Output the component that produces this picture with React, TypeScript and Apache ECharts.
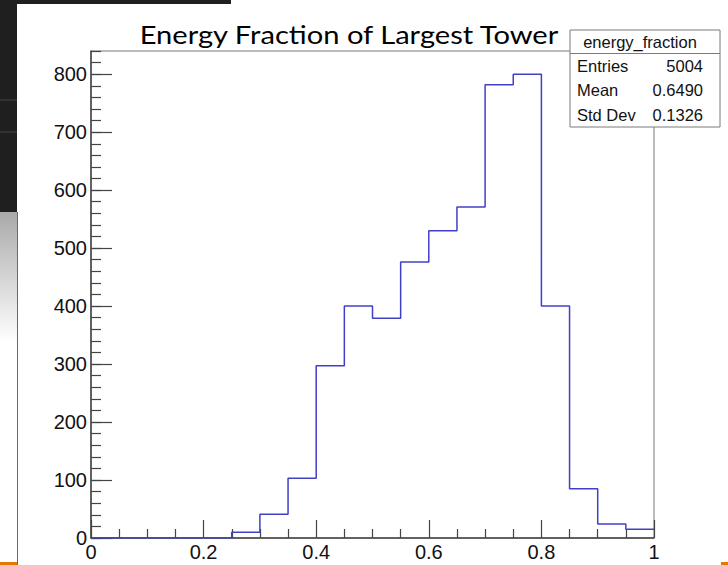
import React, { useEffect, useRef } from "react";
import * as echarts from "echarts";

const binLowEdges = [0, 0.05, 0.1, 0.15, 0.2, 0.25, 0.3, 0.35, 0.4, 0.45, 0.5, 0.55, 0.6, 0.65, 0.7, 0.75, 0.8, 0.85, 0.9, 0.95];
const binUpperLast = 1.0;
const binCounts = [0, 0, 0, 0, 0, 10, 41, 103, 297, 400, 379, 476, 530, 571, 782, 800, 400, 85, 24, 15];

const titleText = "Energy Fraction of Largest Tower";
const statsName = "energy_fraction";
const statsLabels = ["Entries", "Mean", "Std Dev"];
const statsValues = ["5004", "0.6490", "0.1326"];

const xMin = 0;
const xMax = 1;
const yMax = 840;

export default function App() {
  const ref = useRef<HTMLDivElement>(null);

  useEffect(() => {
    if (!ref.current) return;
    const chart = echarts.init(ref.current, null, { renderer: "svg" });

    const stepData: [number, number][] = binLowEdges.map((x, i) => [x, binCounts[i]]);
    stepData.push([binUpperLast, binCounts[binCounts.length - 1]]);

    const statFont = "16.5px 'Liberation Sans', Arial, sans-serif";
    const rowH = 24.6;
    const statsGraphics: any[] = [
      {
        type: "rect",
        shape: { x: 570, y: 30, width: 150, height: 97 },
        style: { fill: "#fff", stroke: "#7a7a7a", lineWidth: 1 },
        z: 100,
      },
      {
        type: "line",
        shape: { x1: 570, y1: 53.5, x2: 720, y2: 53.5 },
        style: { stroke: "#7a7a7a", lineWidth: 1 },
        z: 101,
      },
      {
        type: "text",
        x: 640,
        y: 42,
        style: { text: statsName, font: statFont, fill: "#111", align: "center", verticalAlign: "middle" },
        z: 102,
      },
    ];
    statsLabels.forEach((lab, i) => {
      const cy = 53.5 + rowH * (i + 0.5);
      statsGraphics.push({
        type: "text",
        x: 577,
        y: cy,
        style: { text: lab, font: statFont, fill: "#111", align: "left", verticalAlign: "middle" },
        z: 102,
      });
      statsGraphics.push({
        type: "text",
        x: 703,
        y: cy,
        style: { text: statsValues[i], font: statFont, fill: "#111", align: "right", verticalAlign: "middle" },
        z: 102,
      });
    });

    const option: any = {
      animation: false,
      backgroundColor: "#ffffff",
      grid: {
        left: 91,
        right: 74,
        top: 51,
        bottom: 27,
        show: true,
        borderColor: "#777",
        borderWidth: 1,
        backgroundColor: "transparent",
      },
      xAxis: {
        type: "value",
        min: xMin,
        max: xMax,
        interval: 0.2,
        axisLine: { show: true, onZero: false, lineStyle: { color: "#444", width: 1.5 } },
        axisTick: { show: true, inside: true, length: 18, lineStyle: { color: "#444", width: 1.2 } },
        minorTick: { show: true, splitNumber: 4, length: 9, lineStyle: { color: "#444", width: 1.2 } },
        splitLine: { show: false },
        minorSplitLine: { show: false },
        axisLabel: {
          show: true,
          margin: 4,
          fontSize: 20,
          color: "#111",
          fontFamily: "'Liberation Sans', Arial, sans-serif",
        },
      },
      yAxis: [
        {
          type: "value",
          min: 0,
          max: yMax,
          interval: 100,
          position: "left",
          axisLine: { show: true, onZero: false, lineStyle: { color: "#444", width: 1.5 } },
          axisTick: { show: true, inside: true, length: 21, lineStyle: { color: "#444", width: 1.2 } },
          splitLine: { show: false },
          axisLabel: {
            show: true,
            margin: 4,
            fontSize: 20,
            color: "#111",
            showMaxLabel: false,
            fontFamily: "'Liberation Sans', Arial, sans-serif",
          },
        },
        {
          type: "value",
          min: 0,
          max: yMax,
          interval: 20,
          position: "left",
          offset: 0,
          axisLine: { show: false },
          axisTick: { show: true, inside: true, length: 10, lineStyle: { color: "#444", width: 1.2 } },
          splitLine: { show: false },
          axisLabel: { show: false },
        },
      ],
      series: [
        {
          type: "line",
          step: "end",
          data: stepData,
          xAxisIndex: 0,
          yAxisIndex: 0,
          showSymbol: false,
          symbol: "none",
          lineStyle: { color: "#4040c6", width: 1.5 },
          z: 5,
        },
      ],
      graphic: [
        { type: "rect", shape: { x: 0, y: 0, width: 17, height: 212 }, style: { fill: "#1f1f1f" } },
        { type: "rect", shape: { x: 0, y: 0, width: 231, height: 4 }, style: { fill: "#1f1f1f" } },
        { type: "line", shape: { x1: 0, y1: 100, x2: 17, y2: 100 }, style: { stroke: "#3a3a3a", lineWidth: 1.5 } },
        { type: "line", shape: { x1: 0, y1: 132, x2: 17, y2: 132 }, style: { stroke: "#3a3a3a", lineWidth: 1.5 } },
        {
          type: "rect",
          shape: { x: 0, y: 212, width: 17, height: 130 },
          style: {
            fill: new echarts.graphic.LinearGradient(0, 0, 0, 1, [
              { offset: 0, color: "#a9a9a9" },
              { offset: 1, color: "#ffffff" },
            ]),
          },
        },
        { type: "line", shape: { x1: 17.5, y1: 212, x2: 17.5, y2: 565 }, style: { stroke: "#6a6a6a", lineWidth: 1 } },
        { type: "rect", shape: { x: 0, y: 562, width: 17, height: 3 }, style: { fill: "#e07b00" } },
        { type: "rect", shape: { x: 721, y: 562, width: 7, height: 3 }, style: { fill: "#e07b00" } },
        {
          type: "text",
          x: 349,
          y: 34,
          scaleX: 1.12,
          style: { text: titleText, font: "26px Lato, 'Open Sans', sans-serif", fill: "#000", align: "center", verticalAlign: "middle" },
        },
        ...statsGraphics,
      ],
    };

    chart.setOption(option);
    return () => chart.dispose();
  }, []);

  return (
    <div
      ref={ref}
      style={{ position: "absolute", left: 0, top: 0, width: 728, height: 565 }}
    />
  );
}
